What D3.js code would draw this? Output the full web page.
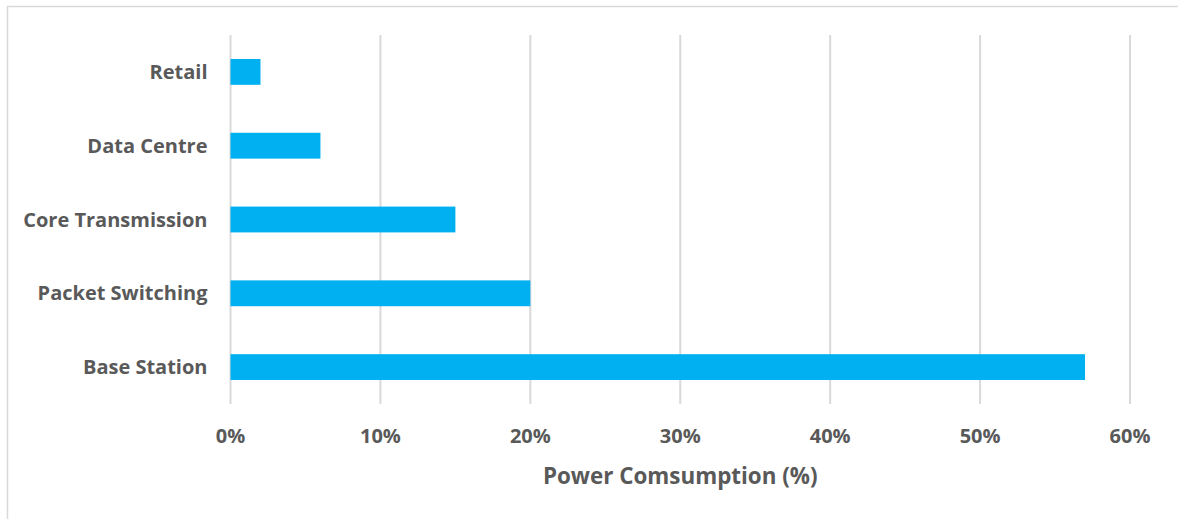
<!DOCTYPE html>
<html>
<head>
<meta charset="utf-8">
<script src="https://cdn.jsdelivr.net/npm/d3@7"></script>
<style>
  html, body { margin: 0; padding: 0; background: #fff; }
  svg { display: block; }
  text { font-family: "Open Sans", "Liberation Sans", sans-serif; font-weight: 700; fill: #595959; }
</style>
</head>
<body>
<svg id="chart" width="1178" height="519"></svg>
<script>
// Share of network power consumption by segment
const categories = ["Retail", "Data Centre", "Core Transmission", "Packet Switching", "Base Station"];
const values = [2, 6, 15, 20, 57];
const ticks = [0, 10, 20, 30, 40, 50, 60];
const axisTitle = "Power Comsumption (%)";

const svg = d3.select("#chart");
const W = 1178, H = 519;
const margin = { left: 230.5, right: 48, top: 35, bottom: 115 };

// Chart frame
svg.append("rect")
  .attr("x", 7.5).attr("y", 6.5)
  .attr("width", W + 10).attr("height", H + 10)
  .attr("fill", "none").attr("stroke", "#d9d9d9").attr("stroke-width", 1.5);

const x = d3.scaleLinear().domain([0, 60]).range([margin.left, W - margin.right]);
const y = d3.scaleBand().domain(categories).range([margin.top, H - margin.bottom]).paddingInner(0.65).paddingOuter(0.325);

// Vertical gridlines
svg.append("g").selectAll("line").data(ticks).join("line")
  .attr("x1", d => x(d)).attr("x2", d => x(d))
  .attr("y1", margin.top).attr("y2", H - margin.bottom)
  .attr("stroke", "#d9d9d9").attr("stroke-width", 2);

// Bars
svg.append("g").selectAll("rect").data(values).join("rect")
  .attr("x", x(0))
  .attr("y", (d, i) => y(categories[i]))
  .attr("width", d => x(d) - x(0))
  .attr("height", y.bandwidth())
  .attr("fill", "#00b0f0");

// Category labels
svg.append("g").selectAll("text").data(categories).join("text")
  .attr("x", x(0) - 23)
  .attr("y", d => y(d) + y.bandwidth() / 2)
  .attr("dy", "0.35em")
  .attr("text-anchor", "end")
  .attr("font-size", 20)
  .text(d => d);

// Tick labels
svg.append("g").selectAll("text").data(ticks).join("text")
  .attr("x", d => x(d))
  .attr("y", 443)
  .attr("text-anchor", "middle")
  .attr("font-size", 20)
  .text(d => d + "%");

// Axis title
svg.append("text")
  .attr("x", (x(0) + x(60)) / 2)
  .attr("y", 484)
  .attr("text-anchor", "middle")
  .attr("font-size", 22.4)
  .text(axisTitle);
</script>
</body>
</html>
